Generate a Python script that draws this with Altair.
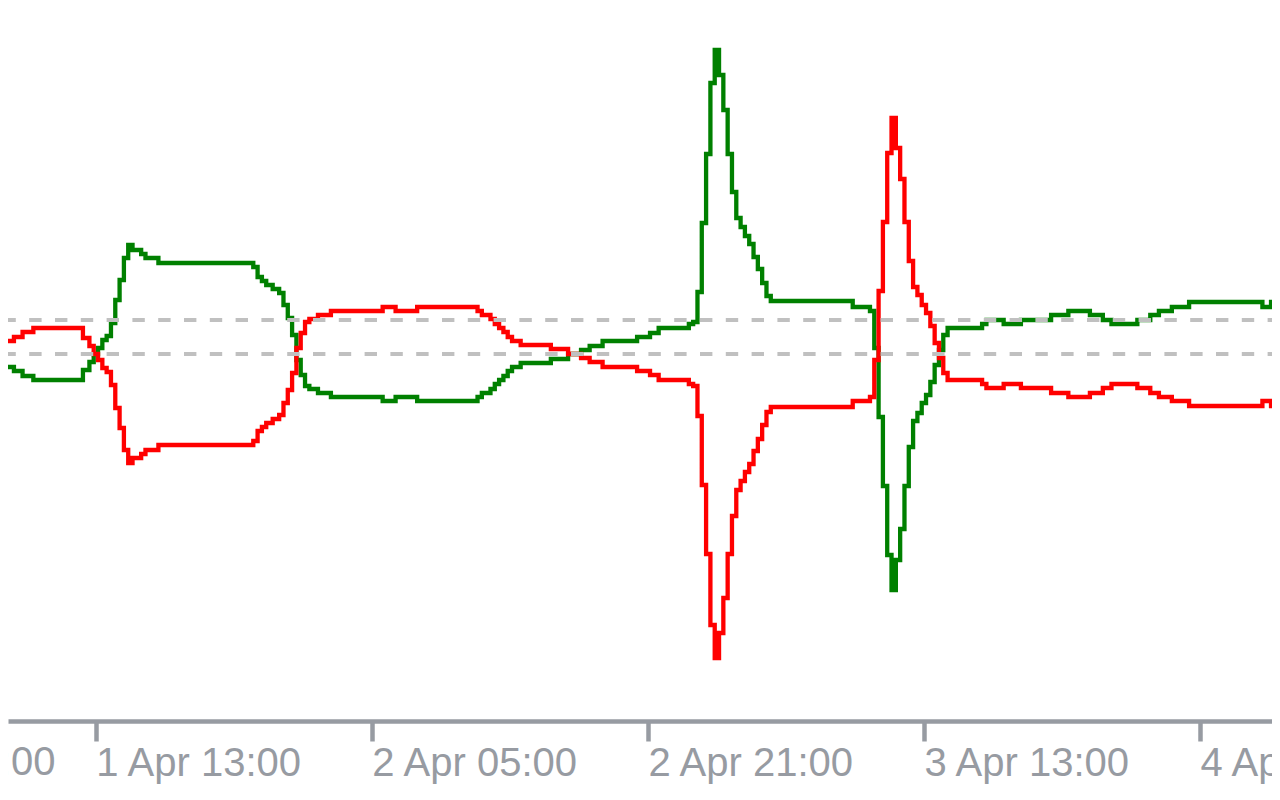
import altair as alt
import numpy as np
import pandas as pd

# 15-minute bar offsets counted from 1 Apr 07:30
bars = [0, 2, 4, 6, 9, 18, 20, 21, 22, 23, 24, 25, 26, 27, 28, 29, 30, 31, 32, 33,
        34, 36, 37, 58, 59, 60, 61, 62, 64, 65, 66, 67, 68, 69, 70, 71, 72, 73, 74, 76,
        77, 88, 89, 91, 92, 96, 97, 110, 111, 112, 113, 114, 115, 116, 117, 118, 119, 120, 121, 127,
        128, 131, 132, 134, 135, 136, 137, 139, 140, 147, 148, 150, 151, 152, 153, 159, 160, 161, 162, 163,
        164, 165, 166, 167, 168, 169, 170, 171, 172, 173, 174, 175, 176, 177, 178, 179, 197, 198, 201, 202,
        203, 204, 205, 206, 207, 208, 209, 210, 211, 212, 213, 214, 215, 216, 217, 218, 219, 220, 227, 228,
        229, 232, 233, 236, 237, 243, 244, 247, 248, 252, 253, 255, 256, 257, 258, 263, 264, 266, 267, 268,
        269, 271, 272, 275, 276, 292, 293, 294, 295, 297]

green_values = [-2.25, -3.25, -4.25, -5.5, -6.5, -6.5, -4.0, -2.0, 0.0, 1.5, 3.5, 4.5, 7.75, 13.5, 18.5, 24.0, 27.25, 26.0, 26.0, 25.0,
                24.0, 24.0, 22.75, 22.75, 21.75, 19.25, 18.25, 17.25, 16.25, 15.25, 12.25, 9.0, 4.75, -1.5, -5.25, -8.0, -8.75, -8.75, -9.75, -9.75,
                -10.75, -10.75, -11.75, -11.75, -10.75, -10.75, -11.75, -11.75, -10.75, -9.75, -9.75, -8.75, -7.5, -6.5, -5.5, -4.25, -3.25, -3.25, -2.25, -2.25,
                -1.25, -1.25, 0.0, 0.0, 1.0, 1.0, 2.0, 2.0, 3.25, 3.25, 4.25, 4.25, 5.25, 5.25, 6.5, 6.5, 7.5, 8.0, 15.5, 32.75,
                50.0, 67.75, 76.0, 69.75, 61.0, 50.0, 40.5, 34.0, 31.75, 29.5, 27.5, 24.25, 21.25, 17.75, 14.5, 13.25, 13.25, 11.75, 11.75, 10.75,
                1.5, -15.75, -33.0, -50.25, -59.0, -51.5, -43.75, -33.0, -23.25, -16.75, -14.75, -12.25, -10.25, -7.0, -2.75, 1.0, 4.75, 6.5, 6.5, 7.5,
                8.5, 8.5, 7.5, 7.5, 8.5, 8.5, 9.75, 9.75, 10.75, 10.75, 9.75, 9.75, 8.5, 8.5, 7.5, 7.5, 8.5, 8.5, 9.75, 9.75,
                10.75, 10.75, 11.75, 11.75, 13.0, 13.0, 11.75, 11.75, 13.0, 13.0]

red_values = [2.25, 3.25, 4.25, 5.5, 6.5, 6.5, 4.0, 2.0, 0.0, -1.5, -3.5, -4.5, -7.75, -13.5, -18.5, -24.0, -27.25, -26.0, -26.0, -25.0,
              -24.0, -24.0, -22.75, -22.75, -21.75, -19.25, -18.25, -17.25, -16.25, -15.25, -12.25, -9.0, -4.75, 1.5, 5.25, 8.0, 8.75, 8.75, 9.75, 9.75,
              10.75, 10.75, 11.75, 11.75, 10.75, 10.75, 11.75, 11.75, 10.75, 9.75, 9.75, 8.75, 7.5, 6.5, 5.5, 4.25, 3.25, 3.25, 2.25, 2.25,
              1.25, 1.25, 0.0, 0.0, -1.0, -1.0, -2.0, -2.0, -3.25, -3.25, -4.25, -4.25, -5.25, -5.25, -6.5, -6.5, -7.5, -8.0, -15.5, -32.75,
              -50.0, -67.75, -76.0, -69.75, -61.0, -50.0, -40.5, -34.0, -31.75, -29.5, -27.5, -24.25, -21.25, -17.75, -14.5, -13.25, -13.25, -11.75, -11.75, -10.75,
              -1.5, 15.75, 33.0, 50.25, 59.0, 51.5, 43.75, 33.0, 23.25, 16.75, 14.75, 12.25, 10.25, 7.0, 2.75, -1.0, -4.75, -6.5, -6.5, -7.5,
              -8.5, -8.5, -7.5, -7.5, -8.5, -8.5, -9.75, -9.75, -10.75, -10.75, -9.75, -9.75, -8.5, -8.5, -7.5, -7.5, -8.5, -8.5, -9.75, -9.75,
              -10.75, -10.75, -11.75, -11.75, -13.0, -13.0, -11.75, -11.75, -13.0, -13.0]

level_values = [0.0, 8.5]

tick_label_times = ["2025-04-01 13:00", "2025-04-02 05:00", "2025-04-02 21:00",
                    "2025-04-03 13:00", "2025-04-04 05:00"]
clipped_label_time = "2025-03-31 21:00"
clipped_label_text = "31 Mar 21:00"

start = pd.Timestamp("2025-04-01 07:30")
times = start + pd.to_timedelta(np.array(bars) * 15, unit="min")
df = pd.DataFrame({"time": times, "green": green_values, "red": red_values})
levels_df = pd.DataFrame({"level": level_values})
label_df = pd.DataFrame({"time": [pd.Timestamp(clipped_label_time)], "label": [clipped_label_text]})

GRAY = "#979ba2"
FONT = "Liberation Sans"
FONT_SIZE = 40
W, H = 1264, 713


def dt(s):
    t = pd.Timestamp(s)
    return alt.DateTime(year=t.year, month=t.month, date=t.day, hours=t.hour,
                        minutes=t.minute, seconds=t.second)


x_scale = alt.Scale(domain=[dt("2025-04-01 07:54:21"), dt("2025-04-04 09:10:52")], nice=False)
y_scale = alt.Scale(domain=[-91.75, 86.5], nice=False, zero=False)

x_axis = alt.Axis(
    values=[dt(s) for s in tick_label_times],
    format="%-d %b %H:%M",
    title=None,
    grid=False,
    domainColor=GRAY,
    domainWidth=4.5,
    tickColor=GRAY,
    tickWidth=4.5,
    tickSize=20,
    labelFont=FONT,
    labelFontSize=FONT_SIZE,
    labelColor=GRAY,
    labelAlign="left",
    labelBaseline="alphabetic",
    labelPadding=34,
    labelFlush=False,
    labelOverlap=False,
    labelLimit=600,
)

x_enc = alt.X("time:T", scale=x_scale, axis=x_axis)
base = alt.Chart(df).encode(x=x_enc)

green_line = base.mark_line(color="#008000", strokeWidth=4.3, interpolate="step",
                            strokeJoin="miter").encode(
    y=alt.Y("green:Q", scale=y_scale, axis=None)
)
red_line = base.mark_line(color="#ff0000", strokeWidth=4.3, interpolate="step",
                          strokeJoin="miter").encode(
    y=alt.Y("red:Q", scale=y_scale, axis=None)
)

level_rules = alt.Chart(levels_df).mark_rule(
    color="#c0c0c0", strokeWidth=4, strokeDash=[12.4, 13.4], strokeDashOffset=8
).encode(y=alt.Y("level:Q", scale=y_scale, axis=None))

clipped_label = alt.Chart(label_df).mark_text(
    align="left", baseline="alphabetic", font=FONT, fontSize=FONT_SIZE, color=GRAY
).encode(
    x=x_enc,
    y=alt.value(H + 54),
    text="label:N",
)

chart = alt.layer(green_line, red_line, level_rules, clipped_label).properties(
    width=W,
    height=H,
    autosize=alt.AutoSizeParams(type="none"),
    padding={"left": 0, "top": 0, "right": 0, "bottom": 66},
    background="white",
).configure_view(stroke=None)

chart.save("out.html", embed_options={"renderer": "svg", "actions": False})
